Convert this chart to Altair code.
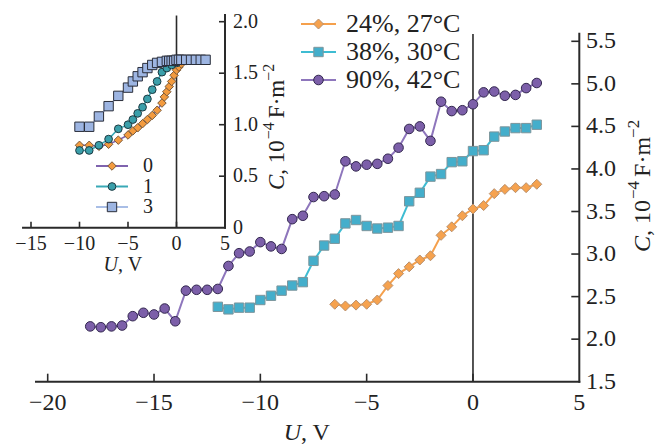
import altair as alt
import pandas as pd

# ---------------- main panel: U (V) vs C (10^-4 F m^-2) ----------------
u_24 = [-6.5, -6, -5.5, -5, -4.5, -4, -3.5, -3, -2.5, -2, -1.5, -1, -0.5, 0, 0.5, 1, 1.5, 2, 2.5, 3]
c_24 = [2.41, 2.39, 2.40, 2.41, 2.46, 2.63, 2.77, 2.85, 2.93, 2.98, 3.22, 3.32, 3.45, 3.53, 3.57, 3.71,
        3.76, 3.78, 3.78, 3.82]

u_38 = [-12, -11.5, -11, -10.5, -10, -9.5, -9, -8.5, -8, -7.5, -7, -6.5, -6, -5.5, -5, -4.5, -4, -3.5,
        -3, -2.5, -2, -1.5, -1, -0.5, 0, 0.5, 1, 1.5, 2, 2.5, 3]
c_38 = [2.38, 2.35, 2.37, 2.37, 2.46, 2.51, 2.57, 2.63, 2.67, 2.92, 3.10, 3.18, 3.36, 3.40, 3.33, 3.30,
        3.31, 3.33, 3.62, 3.72, 3.91, 3.94, 4.08, 4.09, 4.21, 4.22, 4.38, 4.44, 4.48, 4.48, 4.52]

u_90 = [-18, -17.5, -17, -16.5, -16, -15.5, -15, -14.5, -14, -13.5, -13, -12.5, -12, -11.5, -11, -10.5,
        -10, -9.5, -9, -8.5, -8, -7.5, -7, -6.5, -6, -5.5, -5, -4.5, -4, -3.5, -3, -2.5, -2, -1.5, -1,
        -0.5, 0, 0.5, 1, 1.5, 2, 2.5, 3]
c_90 = [2.15, 2.14, 2.15, 2.16, 2.27, 2.31, 2.29, 2.36, 2.21, 2.57, 2.58, 2.58, 2.59, 2.86, 3.01, 3.03,
        3.14, 3.09, 3.06, 3.41, 3.45, 3.67, 3.68, 3.70, 4.09, 4.03, 4.05, 4.06, 4.12, 4.25, 4.47, 4.50,
        4.33, 4.79, 4.68, 4.69, 4.76, 4.90, 4.91, 4.86, 4.87, 4.95, 5.01]

main_labels = ["24%, 27°C", "38%, 30°C", "90%, 42°C"]

# ---------------- inset ----------------
u_0 = [-10, -9, -8, -7, -6, -5, -4.5, -4, -3.5, -3, -2.5, -2, -1.5, -1.25, -1, -0.75, -0.5, -0.25, 0,
       0.25, 0.5, 1]
c_0 = [0.80, 0.80, 0.79, 0.81, 0.85, 0.90, 0.94, 0.97, 1.01, 1.05, 1.09, 1.14, 1.21, 1.27, 1.32, 1.37,
       1.42, 1.48, 1.53, 1.56, 1.59, 1.62]

u_1 = [-10, -9, -8, -7, -6, -5, -4.5, -4, -3.5, -3, -2.5, -2, -1.5, -1, -0.5, 0, 0.5, 1]
c_1 = [0.75, 0.75, 0.80, 0.86, 0.96, 1.00, 1.05, 1.11, 1.17, 1.25, 1.34, 1.42, 1.51, 1.55, 1.58, 1.60,
       1.62, 1.63]

u_3 = [-10, -9, -8, -7, -6, -5, -4.5, -4, -3.5, -3, -2.5, -2, -1.5, -1, -0.75, -0.5, -0.25, 0, 0.25,
       0.5, 1, 1.5, 2, 2.5, 3]
c_3 = [0.98, 0.98, 1.08, 1.18, 1.28, 1.36, 1.42, 1.47, 1.51, 1.55, 1.58, 1.60, 1.61, 1.62, 1.62, 1.62,
       1.62, 1.63, 1.63, 1.63, 1.63, 1.63, 1.63, 1.63, 1.63]

inset_labels = ["0", "1", "3"]

# ---------------- ticks ----------------
main_x_ticks = [-20, -15, -10, -5, 0, 5]
main_x_labels = ["−20", "−15", "−10", "−5", "0", "5"]
main_y_ticks = [1.5, 2.0, 2.5, 3.0, 3.5, 4.0, 4.5, 5.0, 5.5]
main_y_labels = ["1.5", "2.0", "2.5", "3.0", "3.5", "4.0", "4.5", "5.0", "5.5"]
inset_x_ticks = [-15, -10, -5, 0, 5]
inset_x_labels = ["−15", "−10", "−5", "0", "5"]
inset_y_ticks = [0, 0.5, 1.0, 1.5, 2.0]
inset_y_labels = ["0", "0.5", "1.0", "1.5", "2.0"]

# ---------------- styling / layout ----------------
FONT = "'Liberation Serif', 'Times New Roman', Tinos, Times, serif"
AX = "#2a2a2a"
TXT = "#222222"

mx = alt.Scale(domain=[-20, 5], range=[47.7, 579.3], zero=False, nice=False)
my = alt.Scale(domain=[1.5, 5.5], range=[381.7, 41.3], zero=False, nice=False)
ix = alt.Scale(domain=[-15, 5], range=[31.0, 225.0], zero=False, nice=False)
iy = alt.Scale(domain=[0, 2], range=[227.7, 21.7], zero=False, nice=False)

ONE = pd.DataFrame({"k": [0]})
layers = []


def X(f, s):
    return alt.X(f, scale=s, axis=None)


def Y(f, s):
    return alt.Y(f, scale=s, axis=None)


def series(u, c, xs, ys, line_color, lw, shape, fill, stroke, size, sw=1.0):
    df = pd.DataFrame({"u": u, "c": c})
    base = alt.Chart(df).encode(x=X("u:Q", xs), y=Y("c:Q", ys))
    return [
        base.mark_line(color=line_color, strokeWidth=lw),
        base.mark_point(shape=shape, filled=True, fill=fill, stroke=stroke, strokeWidth=sw,
                        size=size, opacity=1),
    ]


def text(t, x, y, size, align="left", italic=False, angle=None, baseline="middle"):
    kw = dict(text=t, font=FONT, fontSize=size, align=align, baseline=baseline, color=TXT)
    if italic:
        kw["fontStyle"] = "italic"
    if angle is not None:
        kw["angle"] = angle
    return alt.Chart(ONE).mark_text(**kw).encode(x=alt.value(x), y=alt.value(y))


def axis_set(xs, ys, xlo, xhi, ylo, yhi, xt, xl, yt, yl, xlab_y, ylab_x, tick_len, fsize, lw):
    out = []
    out.append(alt.Chart(pd.DataFrame({"x": [0], "a": [ylo], "b": [yhi - 0.005]}))
               .mark_rule(color=AX, strokeWidth=lw * 0.8)
               .encode(x=X("x:Q", xs), y=Y("a:Q", ys), y2="b:Q"))
    out.append(alt.Chart(pd.DataFrame({"a": [xlo], "b": [xhi], "y": [ylo]}))
               .mark_rule(color=AX, strokeWidth=lw, strokeCap="square")
               .encode(x=X("a:Q", xs), x2="b:Q", y=Y("y:Q", ys)))
    out.append(alt.Chart(pd.DataFrame({"x": [xhi], "a": [ylo], "b": [yhi]}))
               .mark_rule(color=AX, strokeWidth=lw, strokeCap="square")
               .encode(x=X("x:Q", xs), y=Y("a:Q", ys), y2="b:Q"))
    x0 = xs.range[1]
    y0 = ys.range[0]
    out.append(alt.Chart(pd.DataFrame({"t": xt[:-1]}))
               .mark_rule(color=AX, strokeWidth=lw * 0.8)
               .encode(x=X("t:Q", xs), y=alt.value(y0), y2=alt.value(y0 - tick_len)))
    out.append(alt.Chart(pd.DataFrame({"t": yt[1:]}))
               .mark_rule(color=AX, strokeWidth=lw * 0.8)
               .encode(y=Y("t:Q", ys), x=alt.value(x0), x2=alt.value(x0 - tick_len)))
    out.append(alt.Chart(pd.DataFrame({"t": xt, "l": xl}))
               .mark_text(font=FONT, fontSize=fsize, align="center", baseline="middle", color=TXT)
               .encode(x=X("t:Q", xs), y=alt.value(xlab_y), text="l:N"))
    out.append(alt.Chart(pd.DataFrame({"t": yt, "l": yl}))
               .mark_text(font=FONT, fontSize=fsize, align="left", baseline="middle", color=TXT)
               .encode(y=Y("t:Q", ys), x=alt.value(ylab_x), text="l:N"))
    return out


# Times / Liberation Serif advance widths (em)
EM = {"C": 0.667, ",": 0.25, " ": 0.25, "1": 0.5, "0": 0.5, "F": 0.556, "·": 0.25, "m": 0.778,
      "−": 0.564, "4": 0.5, "2": 0.5, "U": 0.722, "V": 0.722}


def wid(s, size):
    return sum(EM.get(ch, 0.5) for ch in s) * size


def ytitle(xc, ystart, size):
    sup = round(size * 0.7)
    pieces = [("C", size, True, False, 0), (", 10", size, False, False, 1), ("−4", sup, False, True, 4),
              ("F·m", size, False, False, 1), ("−2", sup, False, True, 0)]
    out = []
    y = ystart
    for t, s, it, is_sup, gap in pieces:
        x = xc - size * 0.36 if is_sup else xc
        out.append(text(t, x, y, s, align="left", italic=it, angle=270))
        y -= wid(t, s) + gap
    return out


def xtitle(xsplit, y, size):
    return [text("U", xsplit, y, size, align="right", italic=True),
            text(", V", xsplit, y, size, align="left")]


# ---------- main panel ----------
layers += axis_set(mx, my, -20.55, 5, 1.5, 5.59, main_x_ticks, main_x_labels, main_y_ticks,
                   main_y_labels, 403, 586, 8, 24, 2.0)

M_OR = dict(line_color="#F5A04C", lw=2.0, shape="diamond", fill="#F6A24E", stroke="#B8906E", size=100)
M_TE = dict(line_color="#3EBCD2", lw=2.0, shape="square", fill="#44AECB", stroke="#7C959C", size=88)
M_PU = dict(line_color="#8E76BC", lw=2.0, shape="circle", fill="#7C5FA9", stroke="#33284F", size=92)

layers += series(u_24, c_24, mx, my, **M_OR)
layers += series(u_38, c_38, mx, my, **M_TE)
layers += series(u_90, c_90, mx, my, **M_PU)

layers += xtitle(301, 433, 24)
layers += ytitle(643, 252, 24)

for lab, sty, yy in zip(main_labels, [M_OR, M_TE, M_PU], [24, 52, 80]):
    layers.append(alt.Chart(ONE).mark_rule(color=sty["line_color"], strokeWidth=2.2)
                  .encode(x=alt.value(301), x2=alt.value(336), y=alt.value(yy)))
    layers.append(alt.Chart(ONE).mark_point(shape=sty["shape"], filled=True, fill=sty["fill"],
                                            stroke=sty["stroke"], strokeWidth=1, size=sty["size"],
                                            opacity=1)
                  .encode(x=alt.value(318.5), y=alt.value(yy)))
    layers.append(text(lab, 346, yy, 26))

# ---------- inset ----------
layers += axis_set(ix, iy, -15.82, 5, 0, 2.065, inset_x_ticks, inset_x_labels, inset_y_ticks,
                   inset_y_labels, 244, 233, 6, 20, 2.0)

I_0 = dict(line_color="#7F63AE", lw=1.6, shape="diamond", fill="#F39B3F", stroke="#7A5A3A", size=72)
I_1 = dict(line_color="#39A9B6", lw=1.6, shape="circle", fill="#3A9FAA", stroke="#1E3A42", size=60)
I_3 = dict(line_color="#A9BEE6", lw=1.6, shape="square", fill="#9DB5E2", stroke="#2A2E3A", size=88)

layers += series(u_0, c_0, ix, iy, **I_0)
layers += series(u_1, c_1, ix, iy, **I_1)
layers += series(u_3, c_3, ix, iy, **I_3)

layers += xtitle(118, 265, 20)
layers += ytitle(277, 190, 23)

for lab, sty, yy in zip(inset_labels, [I_0, I_1, I_3], [166, 186.5, 207]):
    layers.append(alt.Chart(ONE).mark_rule(color=sty["line_color"], strokeWidth=2.0)
                  .encode(x=alt.value(96), x2=alt.value(128), y=alt.value(yy)))
    layers.append(alt.Chart(ONE).mark_point(shape=sty["shape"], filled=True, fill=sty["fill"],
                                            stroke=sty["stroke"], strokeWidth=1, size=sty["size"],
                                            opacity=1)
                  .encode(x=alt.value(112), y=alt.value(yy)))
    layers.append(text(lab, 143, yy, 20))

chart = (
    alt.layer(*layers)
    .resolve_scale(x="independent", y="independent")
    .properties(width=660, height=444, padding=0, autosize=alt.AutoSizeParams(type="none"),
                background="white")
    .configure_view(stroke=None)
)

chart.save("out.html", embed_options={"renderer": "svg", "actions": False})
